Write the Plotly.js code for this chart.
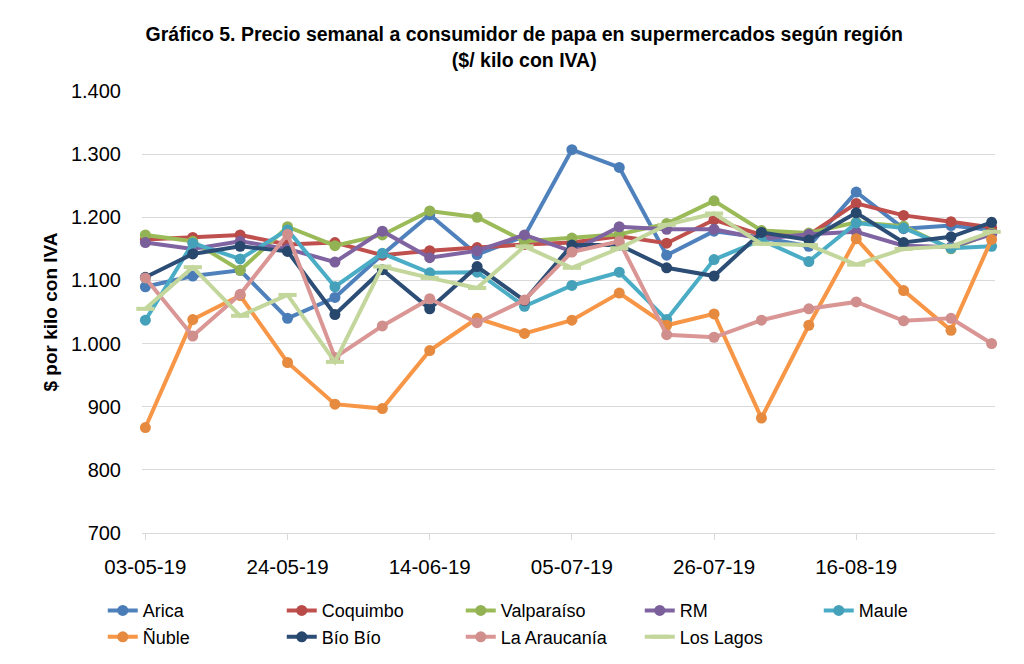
<!DOCTYPE html>
<html>
<head>
<meta charset="utf-8">
<script src="https://cdn.plot.ly/plotly-3.0.1.min.js"></script>
<style>
  html, body { margin: 0; padding: 0; background: #fff; }
  #chart { width: 1024px; height: 664px; }
</style>
</head>
<body>
<div id="chart"></div>
<script>
// Weekly dates (x categories)
const fechas = ['2019-05-03','2019-05-10','2019-05-17','2019-05-24','2019-05-31','2019-06-07','2019-06-14',
  '2019-06-21','2019-06-28','2019-07-05','2019-07-12','2019-07-19','2019-07-26','2019-08-02','2019-08-09',
  '2019-08-16','2019-08-23','2019-08-30','2019-09-05'];

// Tick labels
const tickFechas = ['2019-05-03','2019-05-24','2019-06-14','2019-07-05','2019-07-26','2019-08-16'];
const tickTextos = ['03-05-19','24-05-19','14-06-19','05-07-19','26-07-19','16-08-19'];

// Series ($/kilo con IVA)
const arica      = [1090,1107,1116,1040,1073,1141,1204,1141,1170,1307,1279,1140,1178,1168,1154,1240,1182,1187,1180];
const coquimbo   = [1165,1168,1172,1157,1160,1140,1147,1152,1157,1160,1170,1159,1196,1172,1172,1222,1203,1193,1184];
const valparaiso = [1172,1162,1116,1185,1155,1172,1210,1200,1162,1167,1173,1190,1226,1179,1175,1192,1186,1150,1175];
const rm         = [1160,1150,1162,1150,1129,1178,1136,1147,1172,1146,1185,1181,1181,1166,1173,1177,1155,1153,1173];
const maule      = [1037,1159,1134,1180,1090,1143,1112,1113,1059,1092,1113,1038,1133,1164,1130,1191,1183,1151,1154];
const nuble      = [867,1038,1076,970,904,897,989,1040,1016,1037,1080,1029,1047,882,1029,1166,1084,1021,1165];
const bioBio     = [1105,1142,1154,1146,1046,1117,1055,1122,1068,1156,1156,1120,1107,1176,1164,1207,1160,1169,1192];
const araucania  = [1104,1012,1078,1173,978,1028,1071,1033,1069,1145,1162,1014,1010,1037,1055,1066,1036,1040,1000];
const losLagos   = [1055,1121,1044,1077,971,1122,1104,1088,1154,1120,1151,1188,1206,1158,1156,1125,1150,1154,1177];

const nombres = ['Arica','Coquimbo','Valparaíso','RM','Maule','Ñuble','Bío Bío','La Araucanía','Los Lagos'];
const series = [arica, coquimbo, valparaiso, rm, maule, nuble, bioBio, araucania, losLagos];
const lineColors   = ['#4F81BD','#C0504D','#9BBB59','#8064A2','#4BACC6','#F79646','#2C4D75','#D99694','#C3D69B'];
const markerColors = ['#4A7DB8','#B84B48','#92B254','#7A5F9A','#45A1B9','#E58A3F','#28476C','#D08E8C','#BDD094'];

const FONT = 'Liberation Sans, Arial, sans-serif';

const traces = series.map((ys, i) => {
  const isLagos = nombres[i] === 'Los Lagos';
  return {
    type: 'scatter',
    mode: 'lines+markers',
    name: nombres[i],
    x: fechas,
    y: ys,
    cliponaxis: false,
    line: { color: lineColors[i], width: 4 },
    marker: isLagos
      ? { symbol: 'line-ew', size: 13, color: lineColors[i], line: { color: lineColors[i], width: 4 } }
      : { symbol: 'circle', size: 11, color: markerColors[i], line: { width: 0 } }
  };
});

const layout = {
  width: 1024,
  height: 664,
  paper_bgcolor: '#ffffff',
  plot_bgcolor: '#ffffff',
  separators: ',.',
  margin: { l: 142, r: 29, t: 91, b: 131, autoexpand: false },
  font: { family: FONT, color: '#000000' },
  title: {
    text: '<b>Gráfico 5. Precio semanal a consumidor de papa en supermercados según región<br>($/ kilo con IVA)</b>',
    x: 0.512, xref: 'container', xanchor: 'center',
    y: 0.938, yref: 'container', yanchor: 'top',
    font: { family: FONT, size: 19.5, color: '#000000' }
  },
  xaxis: {
    type: 'date',
    range: ['2019-05-02 12:00', '2019-09-05 12:00'],
    tickvals: tickFechas,
    ticktext: tickTextos,
    ticks: 'outside',
    ticklen: 6,
    tickcolor: '#D9D9D9',
    showline: true,
    linecolor: '#D9D9D9',
    linewidth: 1,
    showgrid: false,
    zeroline: false,
    tickfont: { family: FONT, size: 20.5, color: '#000000' },
    ticklabelstandoff: 9
  },
  yaxis: {
    range: [700, 1400],
    tickvals: [700, 800, 900, 1000, 1100, 1200, 1300, 1400],
    tickformat: ',d',
    showgrid: true,
    gridcolor: '#D9D9D9',
    gridwidth: 1,
    showline: false,
    zeroline: false,
    ticks: '',
    tickfont: { family: FONT, size: 20, color: '#000000' },
    ticklabelstandoff: 20,
    title: {
      text: '<b>$ por kilo con IVA</b>',
      font: { family: FONT, size: 19, color: '#000000' },
      standoff: 8
    }
  },
  showlegend: true,
  legend: {
    orientation: 'h',
    x: -0.046, xanchor: 'left',
    y: -0.134, yanchor: 'top',
    entrywidth: 134,
    entrywidthmode: 'pixels',
    font: { family: FONT, size: 18, color: '#000000' },
    itemclick: false,
    tracegroupgap: 0,
    bgcolor: 'rgba(0,0,0,0)'
  }
};

Plotly.newPlot('chart', traces, layout, { displayModeBar: false, staticPlot: true });
</script>
</body>
</html>
